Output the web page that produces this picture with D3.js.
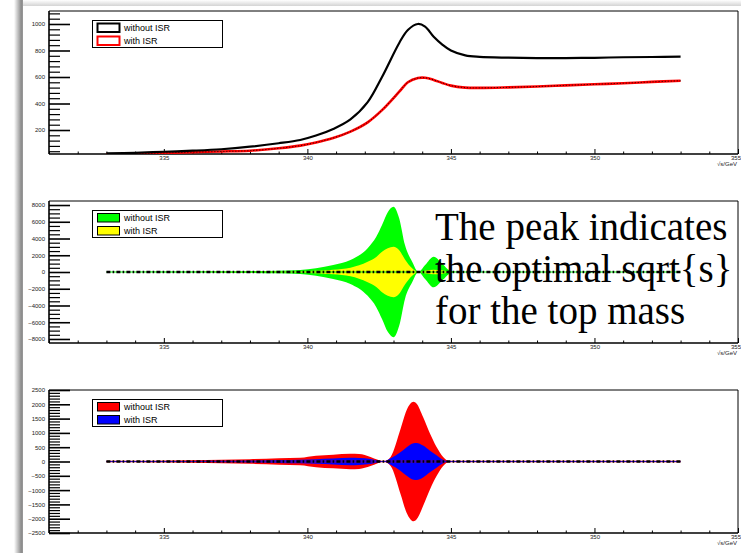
<!DOCTYPE html>
<html>
<head>
<meta charset="utf-8">
<script src="https://cdn.jsdelivr.net/npm/d3@7"></script>
<style>
  body { margin: 0; background: #fff; }
  svg { display: block; }
</style>
</head>
<body>
<svg id="chart" width="741" height="553"></svg>
<script>
// ---- top panel: cross section vs. centre-of-mass energy ----
const sqrtSTop  = [333, 334, 335, 336, 337, 338, 339, 339.75, 340.3, 340.9, 341.5, 342.1, 342.6, 343.2, 343.5, 343.85, 344.1, 344.4, 344.7, 345.0, 345.5, 346, 347, 348, 349, 350, 351, 352, 353];
const xsecNoISR = [23, 28, 36, 44, 55, 74, 100, 125, 158, 208, 280, 410, 600, 857, 955, 1000, 980, 904, 845, 800, 763, 752, 746, 743, 743, 745, 749, 751, 753];
const xsecISR   = [15, 20, 27, 33, 38, 44, 62, 82, 106, 140, 188, 258, 350, 489, 560, 592, 594, 578, 555, 535, 520, 518, 522, 528, 537, 545, 553, 563, 572];

// ---- middle panel: mass sensitivity band (symmetric about zero) ----
const sqrtSMid  = [333, 334, 335, 336, 337, 338, 339, 339.75, 340.3, 340.9, 341.5, 342.1, 342.4, 342.6, 342.8, 343.0, 343.2, 343.4, 343.65, 343.87, 344.1, 344.4, 344.7, 344.95, 345.2, 346, 347, 348, 349, 350, 351, 352, 353];
const sensNoISR = [5, 10, 20, 35, 60, 100, 160, 240, 450, 830, 1430, 2850, 4200, 5600, 7140, 7780, 6390, 3210, 1230, 0, 830, 1830, 1000, 200, 0, 0, 0, 0, 0, 0, 0, 0, 0];
const sensISR   = [2, 4, 8, 14, 22, 35, 55, 80, 150, 280, 520, 1230, 1800, 2420, 2850, 3020, 2600, 1500, 450, 0, 150, 280, 200, 50, 0, 0, 0, 0, 0, 0, 0, 0, 0];

// ---- bottom panel: width sensitivity band (symmetric about zero) ----
const sqrtSBot   = [333, 334, 335, 336, 337, 338, 339, 339.75, 340.3, 340.9, 341.5, 341.8, 342.2, 342.45, 342.65, 342.9, 343.25, 343.46, 343.7, 343.8, 344.03, 344.27, 344.5, 344.73, 344.97, 346, 347, 348, 349, 350, 351, 352, 353];
const widthNoISR = [5, 15, 30, 45, 60, 80, 110, 130, 200, 240, 270, 260, 160, 60, 0, 160, 1150, 1800, 2090, 2030, 1560, 980, 510, 160, 0, 0, 0, 0, 0, 0, 0, 0, 0];
const widthISR   = [2, 6, 12, 18, 25, 35, 55, 65, 80, 105, 130, 120, 90, 35, 0, 110, 330, 500, 640, 650, 560, 380, 220, 60, 0, 0, 0, 0, 0, 0, 0, 0, 0];

// ---- axes and text ----
const xDomain     = [331, 355];
const xMajorTicks = [335, 340, 345, 350, 355];
const topYDomain  = [19, 1098];
const topYTicks   = [200, 400, 600, 800, 1000];
const midYDomain  = [-8480, 8480];
const midYTicks   = [-8000, -6000, -4000, -2000, 0, 2000, 4000, 6000, 8000];
const botYDomain  = [-2500, 2500];
const botYTicks   = [-2500, -2000, -1500, -1000, -500, 0, 500, 1000, 1500, 2000, 2500];
const legendLabels = ["without ISR", "with ISR"];
const axisTitle    = "\u221As/GeV";
const noteLines    = ["The peak indicates", "the optimal sqrt{s}", "for the top mass"];

const svg = d3.select("#chart");
const defs = svg.append("defs");

// page edge shading
const gL = defs.append("linearGradient").attr("id", "edgeL").attr("x1", 0).attr("x2", 1).attr("y1", 0).attr("y2", 0);
gL.append("stop").attr("offset", 0).attr("stop-color", "#ffffff");
gL.append("stop").attr("offset", 0.8).attr("stop-color", "#8c8c8c");
gL.append("stop").attr("offset", 1).attr("stop-color", "#9a9a9a");
const gT = defs.append("linearGradient").attr("id", "edgeT").attr("x1", 0).attr("x2", 0).attr("y1", 0).attr("y2", 1);
gT.append("stop").attr("offset", 0).attr("stop-color", "#ffffff");
gT.append("stop").attr("offset", 1).attr("stop-color", "#d4d4d4");
svg.append("rect").attr("x", 0).attr("y", 0).attr("width", 741).attr("height", 553).attr("fill", "#fff");
svg.append("rect").attr("x", 23).attr("y", 0).attr("width", 718).attr("height", 6).attr("fill", "url(#edgeT)");
svg.append("rect").attr("x", 14).attr("y", 0).attr("width", 9).attr("height", 553).attr("fill", "url(#edgeL)");

const X0 = 49, X1 = 738;
const x = d3.scaleLinear().domain(xDomain).range([X0, X1]);

function frame(id, top, bottom, yDomain, yMajor, yMinorStep) {
  const y = d3.scaleLinear().domain(yDomain).range([bottom, top]);
  const g = svg.append("g");

  defs.append("clipPath").attr("id", id)
    .append("rect").attr("x", X0).attr("y", top).attr("width", X1 - X0).attr("height", bottom - top);

  // minor y ticks
  const yMinor = d3.range(Math.ceil(yDomain[0] / yMinorStep) * yMinorStep, yDomain[1] + 1e-6, yMinorStep)
    .filter(v => !yMajor.includes(v));
  g.append("g").attr("transform", `translate(${X0},0)`)
    .call(d3.axisLeft(y).tickValues(yMinor).tickSizeInner(-11).tickSizeOuter(0).tickFormat(""))
    .call(a => a.select(".domain").remove())
    .selectAll("line").attr("stroke", "#000").attr("stroke-width", 1.2);
  // major y ticks + labels
  const ya = g.append("g").attr("transform", `translate(${X0},0)`)
    .call(d3.axisLeft(y).tickValues(yMajor).tickSizeInner(-21).tickSizeOuter(0).tickPadding(4)
      .tickFormat(d => d3.format("d")(d)));
  ya.select(".domain").remove();
  ya.selectAll("line").attr("stroke", "#000").attr("stroke-width", 1.6);
  ya.selectAll("text").attr("font-family", "Liberation Sans, Arial, sans-serif")
    .attr("font-size", 6).attr("fill", "#222");

  // x ticks
  const xMinor = d3.range(xDomain[0], xDomain[1] + 1).filter(v => !xMajorTicks.includes(v));
  g.append("g").attr("transform", `translate(0,${bottom})`)
    .call(d3.axisBottom(x).tickValues(xMinor).tickSizeInner(-2.5).tickSizeOuter(0).tickFormat(""))
    .call(a => a.select(".domain").remove())
    .selectAll("line").attr("stroke", "#000").attr("stroke-width", 1);
  const xa = g.append("g").attr("transform", `translate(0,${bottom})`)
    .call(d3.axisBottom(x).tickValues(xMajorTicks).tickSizeInner(-5).tickSizeOuter(0).tickPadding(2));
  xa.select(".domain").remove();
  xa.selectAll("line").attr("stroke", "#000").attr("stroke-width", 1);
  xa.selectAll("text").attr("font-family", "Liberation Sans, Arial, sans-serif")
    .attr("font-size", 6).attr("fill", "#222");
  // the last label sits at the page edge: keep it inside
  xa.selectAll(".tick").filter(d => d === xDomain[1]).select("text")
    .attr("text-anchor", "end").attr("dx", 2.5);

  // frame
  g.append("line").attr("x1", X0).attr("x2", X1).attr("y1", top).attr("y2", top).attr("stroke", "#000").attr("stroke-width", 1);
  g.append("line").attr("x1", X1).attr("x2", X1).attr("y1", top).attr("y2", bottom).attr("stroke", "#000").attr("stroke-width", 1);
  g.append("line").attr("x1", X0).attr("x2", X1).attr("y1", bottom).attr("y2", bottom).attr("stroke", "#000").attr("stroke-width", 1.6);
  g.append("line").attr("x1", X0).attr("x2", X0).attr("y1", top).attr("y2", bottom).attr("stroke", "#000").attr("stroke-width", 1.6);

  // axis title
  g.append("text").attr("x", 737).attr("y", bottom + 12).attr("text-anchor", "end")
    .attr("font-family", "Liberation Sans, Arial, sans-serif").attr("font-size", 6).attr("fill", "#222")
    .text(axisTitle);

  const plot = svg.append("g").attr("clip-path", `url(#${id})`);
  return { y, plot };
}

function legend(top, fills, outlines, outlineOnly) {
  const g = svg.append("g");
  g.append("rect").attr("x", 92.5).attr("y", top + 0.5).attr("width", 130).attr("height", 27)
    .attr("fill", "#fff").attr("stroke", "#000").attr("stroke-width", 1);
  legendLabels.forEach((lab, i) => {
    const ry = top + 3.5 + i * 13;
    g.append("rect").attr("x", 97.5).attr("y", ry).attr("width", 22).attr("height", 8.5)
      .attr("fill", outlineOnly ? "#fff" : fills[i])
      .attr("stroke", outlines[i]).attr("stroke-width", outlineOnly ? 2 : 1);
    g.append("text").attr("x", 124).attr("y", ry + 7.5)
      .attr("font-family", "Liberation Sans, Arial, sans-serif").attr("font-size", 9).attr("fill", "#000")
      .text(lab);
  });
}

function zeroLine(plot, y, under) {
  const line = d3.line().x(d => x(d)).y(() => y(0));
  under.forEach(u => {
    plot.append("path").datum([333, 353]).attr("d", line).attr("fill", "none")
      .attr("stroke", u.c).attr("stroke-width", u.w);
  });
  plot.append("path").datum([333, 353]).attr("d", line).attr("fill", "none")
    .attr("stroke", "#000").attr("stroke-width", 2.3)
    .attr("stroke-dasharray", "4,2.2,1.6,2.2");
}

// ---------- top panel ----------
{
  const { y, plot } = frame("clipTop", 11, 154, topYDomain, topYTicks, 40);
  const line = d3.line().x(d => x(d[0])).y(d => y(d[1])).curve(d3.curveCatmullRom.alpha(0.5));
  plot.append("path").datum(d3.zip(sqrtSTop, xsecISR)).attr("d", line)
    .attr("fill", "none").attr("stroke", "#ff0000").attr("stroke-width", 2.6);
  plot.append("path").datum(d3.zip(sqrtSTop, xsecISR)).attr("d", line)
    .attr("fill", "none").attr("stroke", "#000").attr("stroke-width", 0.9).attr("stroke-dasharray", "1,2");
  plot.append("path").datum(d3.zip(sqrtSTop, xsecNoISR)).attr("d", line)
    .attr("fill", "none").attr("stroke", "#000").attr("stroke-width", 2.2);
  legend(20, ["#fff", "#fff"], ["#000", "#ff0000"], true);
}

// ---------- middle panel ----------
{
  const { y, plot } = frame("clipMid", 201, 343, midYDomain, midYTicks, 500);
  const band = d3.area().x(d => x(d[0])).y0(d => y(-d[1])).y1(d => y(d[1])).curve(d3.curveMonotoneX);
  plot.append("path").datum(d3.zip(sqrtSMid, sensNoISR)).attr("d", band).attr("fill", "#00ff00");
  plot.append("path").datum(d3.zip(sqrtSMid, sensISR)).attr("d", band).attr("fill", "#ffff00");
  zeroLine(plot, y, [{ c: "#00ff00", w: 1.2 }]);
  legend(210, ["#00ff00", "#ffff00"], ["#000", "#000"], false);

  const note = svg.append("text").attr("font-family", "Liberation Serif, Times New Roman, serif")
    .attr("font-size", 39).attr("fill", "#000");
  noteLines.forEach((t, i) => {
    note.append("tspan").attr("x", 435).attr("y", 240 + i * 42).text(t);
  });
}

// ---------- bottom panel ----------
{
  const { y, plot } = frame("clipBot", 390, 533, botYDomain, botYTicks, 100);
  const band = d3.area().x(d => x(d[0])).y0(d => y(-d[1])).y1(d => y(d[1])).curve(d3.curveMonotoneX);
  plot.append("path").datum(d3.zip(sqrtSBot, widthNoISR)).attr("d", band).attr("fill", "#ff0000");
  plot.append("path").datum(d3.zip(sqrtSBot, widthISR)).attr("d", band).attr("fill", "#0000ff");
  zeroLine(plot, y, [{ c: "#ff0000", w: 1.4 }, { c: "#0000ff", w: 0.8 }]);
  legend(399, ["#ff0000", "#0000ff"], ["#000", "#000"], false);
}
</script>
</body>
</html>
